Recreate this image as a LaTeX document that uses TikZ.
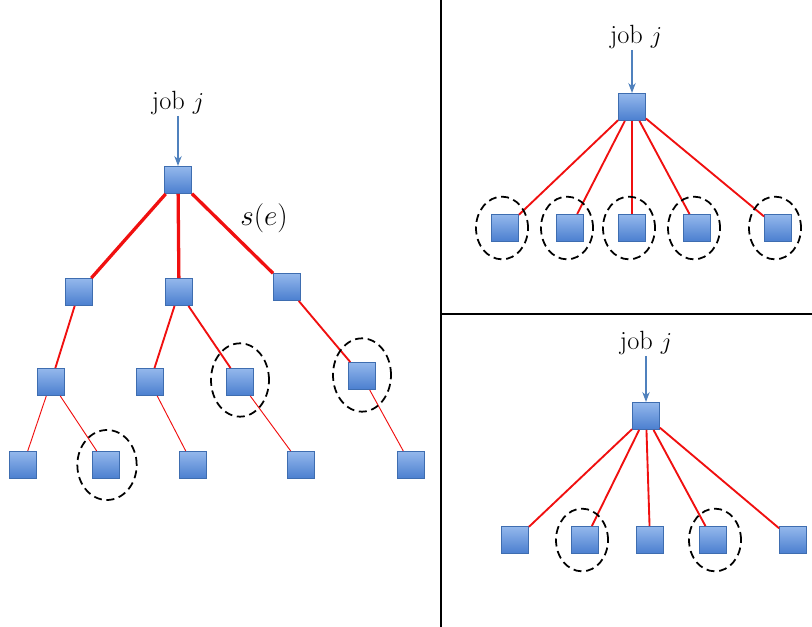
\documentclass[tikz,border=0pt]{standalone}
\usetikzlibrary{shapes.geometric,arrows.meta}
\definecolor{boxtop}{HTML}{94B8EC}
\definecolor{boxbot}{HTML}{4A7ECF}
\definecolor{boxline}{HTML}{3E6DB0}
\definecolor{arrowblue}{HTML}{4F81BD}
\definecolor{edgered}{HTML}{F01010}
\begin{document}
\begin{tikzpicture}[x=0.03cm,y=-0.03cm,
  jobbox/.style={draw=boxline,line width=0.5pt,top color=boxtop,bottom color=boxbot,minimum size=0.82cm,inner sep=0pt},
  thickedge/.style={draw=edgered,line width=2.8pt},
  midedge/.style={draw=edgered,line width=1.6pt},
  thinedge/.style={draw=edgered,line width=0.8pt},
  dashring/.style={draw=black,ellipse,dash pattern=on 0.24cm off 0.14cm,line width=1.5pt,inner sep=0pt},
  lbl/.style={font=\fontsize{22.5}{27}\selectfont,inner sep=0pt},
  jobarrow/.style={draw=arrowblue,line width=1.3pt,-{Stealth[length=0.3cm,width=0.22cm]}},
  divider/.style={draw=black,line width=1.7pt}]
\useasboundingbox (0,0) rectangle (812,627);
% dividers
\coordinate (vt) at (441,0);
\coordinate (vb) at (441,627);
\coordinate (hl) at (441,314);
\coordinate (hr) at (812,314);
\draw[divider] (vt) -- (vb);
\draw[divider] (hl) -- (hr);

% ---------- left tree ----------
\node[jobbox] (r) at (178,180) {};
\node[jobbox] (a1) at (79,292) {};
\node[jobbox] (a2) at (179,292) {};
\node[jobbox] (a3) at (287,287) {};
\node[jobbox] (b1) at (51,382) {};
\node[jobbox] (b2) at (150,382) {};
\node[jobbox] (b3) at (240,382) {};
\node[jobbox] (b4) at (362,376) {};
\node[jobbox] (c1) at (23,465) {};
\node[jobbox] (c2) at (106,465) {};
\node[jobbox] (c3) at (193,465) {};
\node[jobbox] (c4) at (301,465) {};
\node[jobbox] (c5) at (411,465) {};
\node[lbl] (jl) at (178,103) {job $j$};
\coordinate (jla) at (178,116);
\draw[jobarrow] (jla) -- (r.north);
\node[lbl,font=\fontsize{26}{31}\selectfont] (se) at (264,218) {$s(e)$};
\draw[thickedge] (r) -- (a1);
\draw[thickedge] (r) -- (a2);
\draw[thickedge] (r) -- (a3);
\draw[midedge] (a1) -- (b1);
\draw[midedge] (a2) -- (b2);
\draw[midedge] (a2) -- (b3);
\draw[midedge] (a3) -- (b4);
\draw[thinedge] (b1) -- (c1);
\draw[thinedge] (b1) -- (c2);
\draw[thinedge] (b2) -- (c3);
\draw[thinedge] (b3) -- (c4);
\draw[thinedge] (b4) -- (c5);
\node[dashring,minimum width=1.78cm,minimum height=2.1cm] (o1) at (107,465) {};
\node[dashring,minimum width=1.74cm,minimum height=2.2cm] (o2) at (240,380) {};
\node[dashring,minimum width=1.74cm,minimum height=2.2cm] (o3) at (362,375) {};

% ---------- top right ----------
\node[jobbox] (tr) at (632,107) {};
\node[lbl] (tj) at (636,37) {job $j$};
\coordinate (tja) at (632,50);
\draw[jobarrow] (tja) -- (tr.north);
\foreach \i/\x in {1/505,2/570,3/632,4/697,5/778}{
  \node[jobbox] (t\i) at (\x,228) {};
  \draw[midedge] (tr) -- (t\i);
  \node[dashring,minimum width=1.56cm,minimum height=1.88cm] (tc\i) at (\x-3,228) {};
}

% ---------- bottom right ----------
\node[jobbox] (br) at (646,416) {};
\node[lbl] (bj) at (646,343) {job $j$};
\coordinate (bja) at (646,356);
\draw[jobarrow] (bja) -- (br.north);
\foreach \i/\x in {1/515,2/585,3/650,4/713,5/793}{
  \node[jobbox] (u\i) at (\x,540) {};
  \draw[midedge] (br) -- (u\i);
}
\node[dashring,minimum width=1.56cm,minimum height=1.88cm] (uc2) at (582,540) {};
\node[dashring,minimum width=1.56cm,minimum height=1.88cm] (uc4) at (715,540) {};
\end{tikzpicture}
\end{document}
